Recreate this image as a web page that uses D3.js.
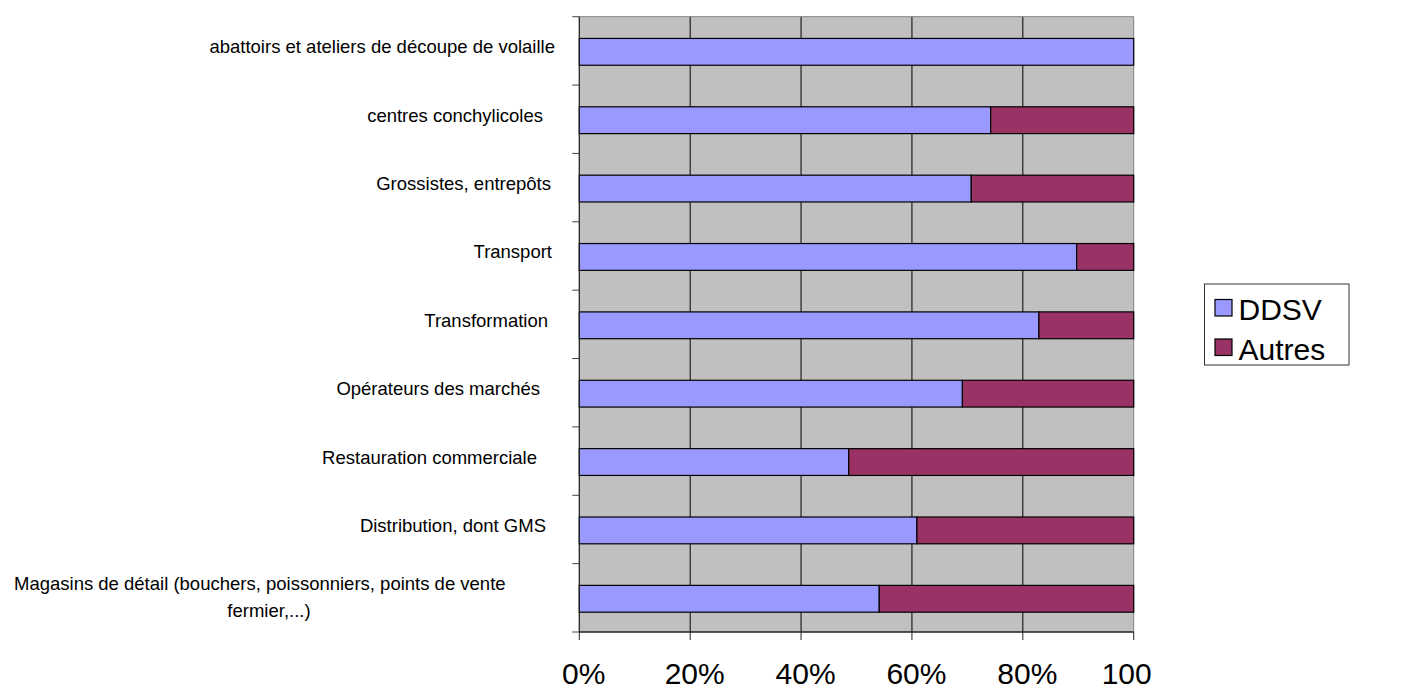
<!DOCTYPE html>
<html><head><meta charset="utf-8">
<script src="https://cdn.jsdelivr.net/npm/d3@7"></script>
<style>body{margin:0;background:#fff}svg{display:block}text{font-family:"Liberation Sans",Arial,sans-serif}</style>
</head><body><svg id="c" width="1420" height="691"></svg>
<script>
const categories = [
  "abattoirs et ateliers de découpe de volaille",
  "centres conchylicoles",
  "Grossistes, entrepôts",
  "Transport",
  "Transformation",
  "Opérateurs des marchés",
  "Restauration commerciale",
  "Distribution, dont GMS",
  "Magasins de détail (bouchers, poissonniers, points de vente|fermier,...)"
];
const ddsv   = [100, 74.2, 70.7, 89.7, 82.9, 69.1, 48.6, 60.9, 54.1];
const autres = [0, 25.8, 29.3, 10.3, 17.1, 30.9, 51.4, 39.1, 45.9];
const seriesNames = ["DDSV", "Autres"];
const tickValues = [0, 20, 40, 60, 80, 100];
const tickLabels = ["0%", "20%", "40%", "60%", "80%", "100"];

// layout (not data)
const labelRight = [555, 543, 551, 552, 548, 540, 537, 546, null];
const colors = ["#9999FF", "#993366"];
const labelSize = 18.5;

const svg = d3.select("#c");
const L = 579.3, R = 1133.7, T = 16.7, B = 632;
const x = d3.scaleLinear().domain([0, 100]).range([L, R]);
const y = d3.scaleBand().domain(categories).range([T, B]).padding(0);
const bw = y.bandwidth();

svg.append("rect").attr("x", L).attr("y", T).attr("width", R - L).attr("height", B - T).attr("fill", "#C0C0C0");

// gridlines
svg.append("g").selectAll("line").data(tickValues.slice(1, -1)).join("line")
  .attr("x1", d => x(d)).attr("x2", d => x(d)).attr("y1", T).attr("y2", B)
  .attr("stroke", "#000").attr("stroke-width", 1);

// border top & right
svg.append("path").attr("d", `M${L},${T}H${R}V${B}`).attr("fill", "none").attr("stroke", "#808080").attr("stroke-width", 1);

// stacked bars
const rows = categories.map((c, i) => ({ c, v: [ddsv[i], autres[i]] }));
const stack = d3.stack().keys([0, 1]).value((d, k) => d.v[k]);
const stacked = stack(rows);
stacked.forEach((s, k) => {
  svg.append("g").selectAll("rect").data(s.filter(d => d[1] - d[0] > 0)).join("rect")
    .attr("x", d => x(d[0])).attr("width", d => x(d[1]) - x(d[0]))
    .attr("y", d => y(d.data.c) + bw * 0.318).attr("height", bw * 0.392)
    .attr("fill", colors[k]).attr("stroke", "#000").attr("stroke-width", 1.2);
});

// y axis
const yTicks = d3.range(categories.length + 1).map(i => T + i * bw);
svg.append("line").attr("x1", L).attr("x2", L).attr("y1", T).attr("y2", B).attr("stroke", "#222").attr("stroke-width", 1.3);
svg.append("g").selectAll("line").data(yTicks).join("line")
  .attr("x1", L - 7).attr("x2", L).attr("y1", d => d).attr("y2", d => d).attr("stroke", "#444");

// x axis
svg.append("line").attr("x1", L).attr("x2", R).attr("y1", B).attr("y2", B).attr("stroke", "#222").attr("stroke-width", 1.3);
svg.append("g").selectAll("line").data(tickValues).join("line")
  .attr("x1", d => x(d)).attr("x2", d => x(d)).attr("y1", B).attr("y2", B + 8).attr("stroke", "#222");
svg.append("g").selectAll("text").data(tickValues).join("text")
  .attr("x", (d, i) => i === tickValues.length - 1 ? x(d) - 32 : x(d) + 4.5)
  .attr("y", 684)
  .attr("text-anchor", (d, i) => i === tickValues.length - 1 ? "start" : "middle")
  .attr("font-size", 30).attr("fill", "#000")
  .text((d, i) => tickLabels[i]);

// category labels
categories.forEach((c, i) => {
  const cy = y(c) + bw * 0.318 + bw * 0.196;
  const parts = c.split("|");
  if (parts.length === 1) {
    svg.append("text").attr("x", labelRight[i]).attr("y", cy + 1.5).attr("text-anchor", "end")
      .attr("font-size", labelSize).attr("fill", "#000").text(c);
  } else {
    svg.append("text").attr("x", 14).attr("y", cy - 9).attr("font-size", labelSize).attr("fill", "#000").text(parts[0]);
    svg.append("text").attr("x", 269).attr("y", cy + 18).attr("text-anchor", "middle").attr("font-size", labelSize).attr("fill", "#000").text(parts[1]);
  }
});

// legend
const lg = svg.append("g");
lg.append("rect").attr("x", 1204.5).attr("y", 284).attr("width", 144.5).attr("height", 81).attr("fill", "#fff").attr("stroke", "#333").attr("stroke-width", 1);
seriesNames.forEach((n, k) => {
  const sy = [299.5, 339][k];
  lg.append("rect").attr("x", 1215).attr("y", sy).attr("width", 17).attr("height", 16.5).attr("fill", colors[k]).attr("stroke", "#000").attr("stroke-width", 1.2);
  lg.append("text").attr("x", 1238.5).attr("y", [320, 359.5][k]).attr("font-size", 30).attr("fill", "#000").text(n);
});
</script></body></html>
